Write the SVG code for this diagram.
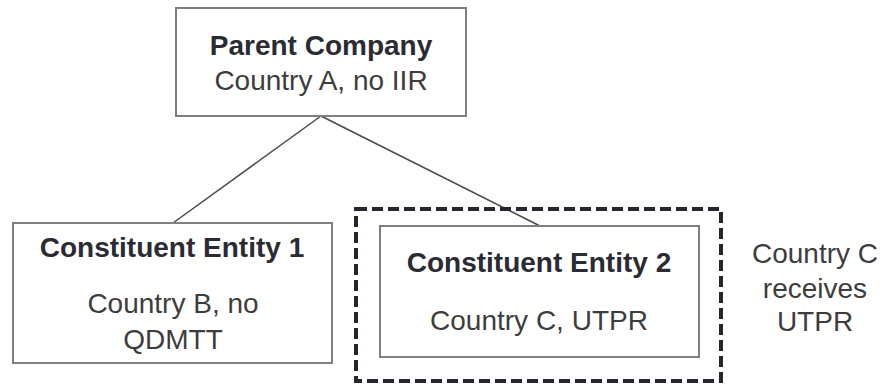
<svg xmlns="http://www.w3.org/2000/svg" width="889" height="384" viewBox="0 0 889 384">
<style>
.box{fill:#fff;stroke:#7f7f7f;stroke-width:2}
.t{font-family:"Liberation Sans",Arial,sans-serif;font-size:28px;fill:#3d3d3d;text-anchor:middle}
.b{font-weight:bold;fill:#2b2b33}
.edge{stroke:#4a4a4a;stroke-width:1.5;fill:none}
</style>
<rect width="889" height="384" fill="#fff"/>
<g id="connectors">
<line class="edge" x1="321" y1="116" x2="173" y2="223"/>
<line class="edge" x1="321" y1="116" x2="540" y2="226"/>
</g>
<g id="parent">
<rect class="box" x="176" y="8" width="290" height="108"/>
<text class="t b" x="321" y="55">Parent Company</text>
<text class="t" x="321" y="90">Country A, no IIR</text>
</g>
<g id="ce1">
<rect class="box" x="13" y="223" width="319" height="140"/>
<text class="t b" x="172" y="257">Constituent Entity 1</text>
<text class="t" x="173" y="313">Country B, no</text>
<text class="t" x="173" y="349">QDMTT</text>
</g>
<g id="group">
<rect x="356" y="209" width="365" height="172" fill="none" stroke="#26262e" stroke-width="4" stroke-dasharray="11 5"/>
</g>
<g id="ce2">
<rect class="box" x="380" y="226" width="319" height="131"/>
<text class="t b" x="539" y="272">Constituent Entity 2</text>
<text class="t" x="539" y="330">Country C, UTPR</text>
</g>
<g id="note">
<text class="t" x="815" y="263">Country C</text>
<text class="t" x="815" y="298">receives</text>
<text class="t" x="815" y="331">UTPR</text>
</g>
</svg>
